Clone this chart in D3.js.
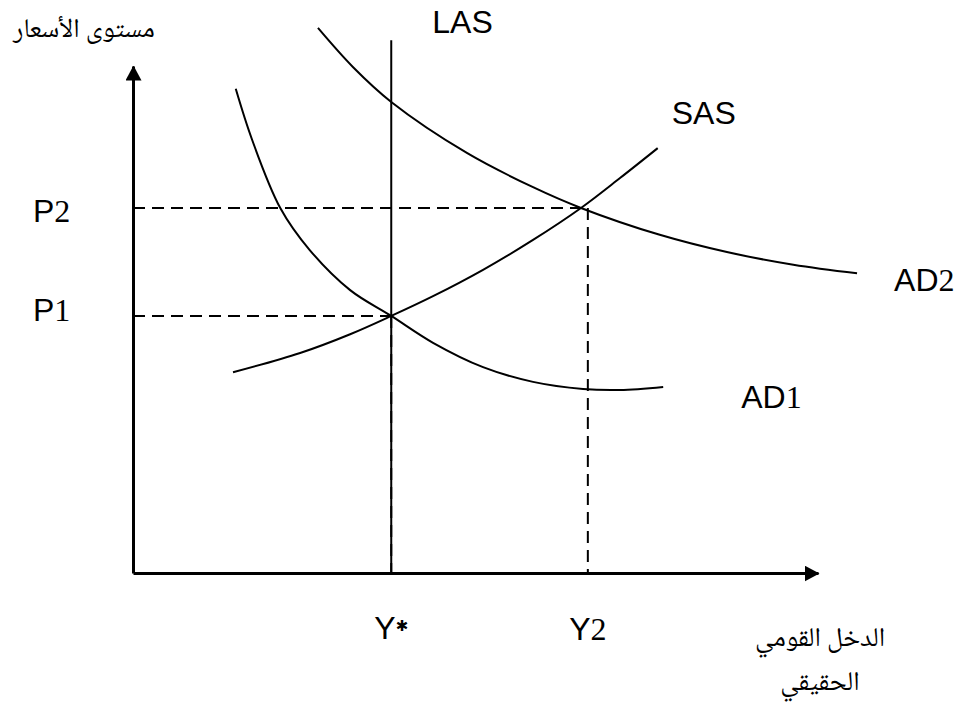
<!DOCTYPE html>
<html lang="ar">
<head>
<meta charset="UTF-8">
<title>AD-AS</title>
<script src="https://d3js.org/d3.v7.min.js"></script>
<style>
  body { margin: 0; background: #fff; }
  .lat { font-family: "Liberation Sans", Arial, sans-serif; font-size: 32px; fill: #000; }
  .num { font-family: "Liberation Serif", "Times New Roman", serif; }
  .star { font-family: "DejaVu Sans", sans-serif; font-size: 15px; }
  .ar { font-family: "Noto Naskh Arabic", "Noto Sans Arabic", "DejaVu Sans", serif; font-size: 27px; fill: #000; }
  .curve { fill: none; stroke: #000; stroke-width: 2; }
  .guide { stroke: #000; stroke-width: 2; stroke-dasharray: 12 7; }
</style>
</head>
<body>
<div id="chart"></div>
<script>
// everything in chart units: axis corner is (0,0), arrow tips sit at 10
const yStar = 3.77, yTwo = 6.64;
const pOne = 5.07, pTwo = 7.2;
const lasTop = 10.51;

// curves as [income, price] pairs
const ad1 = [[1.50,9.55],[1.74,8.54],[2.15,7.20],[2.58,6.37],[3.17,5.58],[3.77,5.07],
             [4.38,4.54],[5.11,4.06],[5.84,3.77],[6.57,3.63],[7.11,3.61],[7.74,3.67]];
const ad2 = [[2.70,10.75],[3.21,9.98],[3.77,9.29],[4.88,8.28],[5.84,7.61],[6.54,7.20],
             [7.69,6.67],[8.67,6.33],[9.64,6.08],[10.57,5.91]];
const sas = [[1.46,3.96],[2.44,4.34],[3.17,4.71],[3.77,5.07],[4.38,5.46],[5.11,5.98],
             [5.84,6.57],[6.54,7.20],[7.11,7.79],[7.66,8.38]];

const yAxisTitle = "مستوى الأسعار";
const xAxisTitle = ["الدخل القومي", "الحقيقي"];

const width = 962, height = 710;

const svg = d3.select("#chart").append("svg")
    .attr("width", width)
    .attr("height", height);

const x = d3.scaleLinear().domain([0, 10]).range([133, 818]);
const y = d3.scaleLinear().domain([0, 10]).range([573, 66]);

// arrow heads for the two axes
svg.append("defs").append("marker")
    .attr("id", "arrow")
    .attr("markerUnits", "userSpaceOnUse")
    .attr("viewBox", "0 0 15 16")
    .attr("refX", 14).attr("refY", 8)
    .attr("markerWidth", 15).attr("markerHeight", 16)
    .attr("orient", "auto")
    .append("path")
    .attr("d", "M0,0L15,8L0,16Z")
    .attr("fill", "#000");

const xAxis = svg.append("g")
    .attr("transform", `translate(0,${y(0)})`)
    .call(d3.axisBottom(x).tickValues([]).tickSizeOuter(0));

const yAxis = svg.append("g")
    .attr("transform", `translate(${x(0)},0)`)
    .call(d3.axisLeft(y).tickValues([]).tickSizeOuter(0));

[xAxis, yAxis].forEach(g => g.select(".domain")
    .attr("stroke-width", 3)
    .attr("marker-end", "url(#arrow)"));

// dashed guides
const guides = [
    [[0, pTwo], [yTwo, pTwo]],
    [[yTwo, pTwo], [yTwo, 0]],
    [[0, pOne], [yStar, pOne]],
    [[yStar, pOne], [yStar, 0]]
];
svg.selectAll(".guide").data(guides).enter().append("line")
    .attr("class", "guide")
    .attr("x1", d => x(d[0][0])).attr("y1", d => y(d[0][1]))
    .attr("x2", d => x(d[1][0])).attr("y2", d => y(d[1][1]));

// long run supply
svg.append("line")
    .attr("class", "curve")
    .attr("x1", x(yStar)).attr("y1", y(lasTop))
    .attr("x2", x(yStar)).attr("y2", y(0));

const line = d3.line()
    .x(d => x(d[0]))
    .y(d => y(d[1]))
    .curve(d3.curveCatmullRom.alpha(0.5));

[ad1, ad2, sas].forEach(pts => {
    svg.append("path").datum(pts).attr("class", "curve").attr("d", line);
});

// curve labels: latin letters in sans, digits in serif like the original
function label(parts, px, py, anchor) {
    const t = svg.append("text").attr("class", "lat")
        .attr("x", px).attr("y", py)
        .attr("text-anchor", anchor || "start");
    parts.forEach(([s, cls, dy]) => {
        const sp = t.append("tspan").text(s);
        if (cls) sp.attr("class", cls);
        if (dy) sp.attr("dy", dy);
    });
    return t;
}

const last = a => a[a.length - 1];

label([["LAS"]], x(yStar) + 41, y(lasTop) - 7);
label([["SAS"]], x(last(sas)[0]) + 14, y(last(sas)[1]) - 24);
label([["AD"], ["2", "num"]], x(last(ad2)[0]) + 37, y(last(ad2)[1]) + 18);
label([["AD"], ["1", "num"]], x(last(ad1)[0]) + 78, y(last(ad1)[1]) + 21);

label([["P"], ["2", "num"]], 33, y(pTwo) + 14);
label([["P"], ["1", "num"]], 33, y(pOne) + 5);

label([["Y"], ["\u2731", "star", -8]], x(yStar), 639, "middle");
label([["Y"], ["2", "num"]], x(yTwo), 640, "middle");

// arabic axis titles
svg.append("text").attr("class", "ar")
    .attr("x", 84).attr("y", 37)
    .attr("text-anchor", "middle")
    .attr("direction", "rtl")
    .text(yAxisTitle);

svg.selectAll(".xtitle").data(xAxisTitle).enter().append("text")
    .attr("class", "ar xtitle")
    .attr("x", 820)
    .attr("y", (d, i) => 646 + i * 44)
    .attr("text-anchor", "middle")
    .attr("direction", "rtl")
    .text(d => d);
</script>
</body>
</html>
